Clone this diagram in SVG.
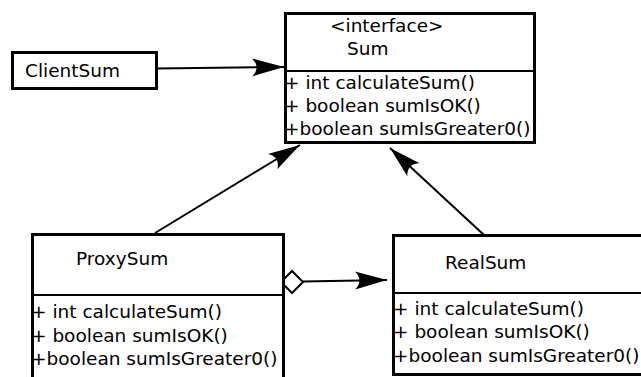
<svg xmlns="http://www.w3.org/2000/svg" width="641" height="377" viewBox="0 0 641 377">
<style>
.box{fill:#fff;stroke:#000;stroke-width:3}
.div{stroke:#000;stroke-width:2}
.t{font-family:"DejaVu Sans",sans-serif;font-size:18.5px;fill:#000}
.c{fill:none;stroke:#000;stroke-width:2}
</style>
<defs>
<marker id="arr" markerUnits="userSpaceOnUse" markerWidth="40" markerHeight="24" viewBox="-34 -12 40 24" refX="0" refY="0" orient="auto" overflow="visible">
<path d="M0,0 L-32,-9 C-26,-3.5 -26,3.5 -32,9 Z" fill="#000"/>
</marker>
</defs>
<g id="connectors">
<line class="c" x1="157" y1="68.5" x2="284" y2="67" marker-end="url(#arr)"/>
<line class="c" x1="155" y1="233" x2="300" y2="145" marker-end="url(#arr)"/>
<line class="c" x1="484" y1="235" x2="390" y2="148" marker-end="url(#arr)"/>
<line class="c" x1="303" y1="281.5" x2="387" y2="280" marker-end="url(#arr)"/>
<path d="M281,282 L292,271 L303,282 L292,293 Z" fill="#fff" stroke="#000" stroke-width="2"/>
</g>
<g id="ClientSum">
<rect class="box" x="12.5" y="52.5" width="144" height="36"/>
<text class="t" x="25" y="77">ClientSum</text>
</g>
<g id="Sum">
<rect class="box" x="285.5" y="13.5" width="249" height="129"/>
<line class="div" x1="285" y1="71" x2="535" y2="71"/>
<text class="t" x="330" y="32">&lt;interface&gt;</text>
<text class="t" x="347" y="55">Sum</text>
<text class="t" x="284" y="89" xml:space="preserve">+ int calculateSum()</text>
<text class="t" x="284" y="112" xml:space="preserve">+ boolean sumIsOK()</text>
<text class="t" x="284" y="135">+boolean sumIsGreater0()</text>
</g>
<g id="ProxySum">
<rect class="box" x="32.5" y="234.5" width="251" height="160"/>
<line class="div" x1="32" y1="295" x2="284" y2="295"/>
<text class="t" x="76" y="265">ProxySum</text>
<text class="t" x="31" y="318" xml:space="preserve">+ int calculateSum()</text>
<text class="t" x="31" y="342" xml:space="preserve">+ boolean sumIsOK()</text>
<text class="t" x="31" y="365">+boolean sumIsGreater0()</text>
</g>
<g id="RealSum">
<rect class="box" x="393.5" y="235.5" width="270" height="139"/>
<line class="div" x1="393" y1="293" x2="641" y2="293"/>
<text class="t" x="445" y="269">RealSum</text>
<text class="t" x="393" y="315" xml:space="preserve">+ int calculateSum()</text>
<text class="t" x="393" y="338" xml:space="preserve">+ boolean sumIsOK()</text>
<text class="t" x="393" y="362">+boolean sumIsGreater0()</text>
</g>
</svg>
